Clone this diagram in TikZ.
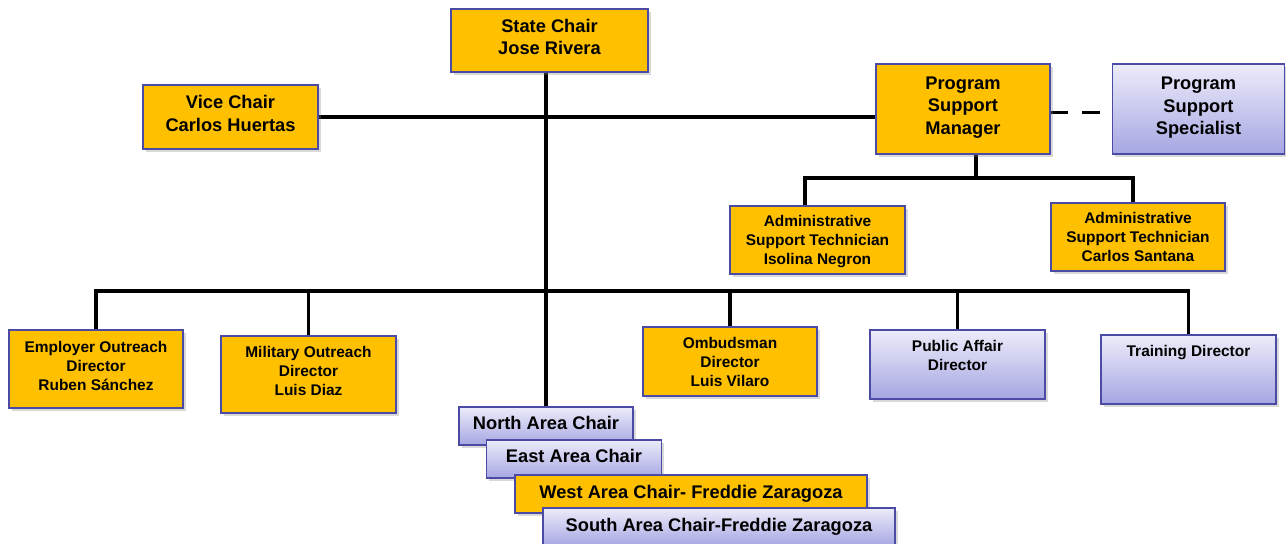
\documentclass[tikz,border=0pt]{standalone}
\usepackage{fontspec}
\setmainfont{Liberation Sans}
\usetikzlibrary{shadows,backgrounds}
\definecolor{boxgold}{HTML}{FFC000}
\definecolor{boxedge}{HTML}{4B4BA5}
\definecolor{liltop}{HTML}{ECECFA}
\definecolor{lilbot}{HTML}{A6A6E3}

\begin{document}
\begin{tikzpicture}[x=0.02cm, y=-0.02cm]
        \useasboundingbox (0,0) rectangle (1286,544);
        \begin{scope}[every node/.style={draw=boxedge, line width=0.8pt, align=center, inner sep=0pt,
                drop shadow={shadow xshift=1.6pt, shadow yshift=-1.6pt, opacity=0.3},
                font=\fontsize{8.8}{10.8}\selectfont\bfseries},
            big/.style={font=\fontsize{10.4}{12.8}\selectfont\bfseries},
            gold/.style={fill=boxgold},
            lilac/.style={top color=liltop, bottom color=lilbot},
            lifted/.style={text depth=#1}]
            \node[gold, big, lifted=4pt, minimum width=3.94cm, minimum height=1.26cm] (1) at (549.5, 40.5) {State Chair\\Jose Rivera};
            \node[gold, big, lifted=4pt, minimum width=3.5cm, minimum height=1.28cm] (2) at (230.5, 117) {Vice Chair\\Carlos Huertas};
            \node[gold, big, lifted=4pt, minimum width=3.48cm, minimum height=1.8cm] (3) at (963, 109) {Program\\Support\\Manager};
            \node[lilac, big, lifted=3.5pt, minimum width=3.44cm, minimum height=1.8cm] (4) at (1198.5, 109) {Program\\Support\\Specialist};
            \node[gold, lifted=0pt, minimum width=3.5cm, minimum height=1.36cm] (5) at (817.5, 240) {Administrative\\Support Technician\\Isolina Negron};
            \node[gold, minimum width=3.48cm, minimum height=1.36cm] (6) at (1138, 237) {Administrative\\Support Technician\\Carlos Santana};
            \node[gold, lifted=3.5pt, minimum width=3.48cm, minimum height=1.56cm] (7) at (96, 369) {Employer Outreach\\Director\\Ruben Sánchez};
            \node[gold, lifted=4pt, minimum width=3.5cm, minimum height=1.54cm] (8) at (308.5, 374.5) {Military Outreach\\Director\\Luis Diaz};
            \node[gold, minimum width=3.48cm, minimum height=1.38cm] (9) at (730, 361.5) {Ombudsman\\Director\\Luis Vilaro};
            \node[lilac, minimum width=3.5cm, minimum height=1.38cm] (10) at (957.5, 364.5) {Public Affair\\Director\\~};
            \node[lilac, minimum width=3.5cm, minimum height=1.38cm] (11) at (1188.5, 369.5) {Training Director\\~\\~};
            \node[lilac, big, lifted=3.5pt, minimum width=3.48cm, minimum height=0.76cm] (12) at (546, 426) {North Area Chair};
            \node[lilac, big, lifted=3pt, minimum width=3.5cm, minimum height=0.76cm] (13) at (574, 459) {East Area Chair};
            \node[gold, big, minimum width=7.04cm, minimum height=0.76cm] (14) at (691, 494) {West Area Chair- Freddie Zaragoza};
            \node[lilac, big, minimum width=7.04cm, minimum height=0.76cm] (15) at (719, 527) {South Area Chair-Freddie Zaragoza};
        \end{scope}
        \begin{scope}[on background layer,
            every edge/.style={draw, line width=2.2pt, line cap=rect},
            dashline/.style={dash pattern=on 10pt off 8pt, line cap=butt}]
            \coordinate (u) at (976, 178);
            \coordinate (a) at (805, 178);
            \coordinate (b) at (1133, 178);
            \coordinate (l) at (96, 291);
            \coordinate (r) at (1188.5, 291);
            \path
                (1.south -| 12.north) edge (12.north)
                (2.east) edge (2.east -| 3.west)
                ([yshift=-2pt]3.east) edge [dashline] ([yshift=-2pt]3.east -| 4.west)
                (u |- 3.south) edge (u)
                (a) edge (b)
                (a) edge (a |- 5.north)
                (b) edge (b |- 6.north)
                (l) edge (r)
                (l -| 7) edge (7)
                (l -| 8) edge (8)
                (l -| 9) edge (9)
                (l -| 10) edge (10)
                (l -| 11) edge (11);
        \end{scope}
    \end{tikzpicture}
\end{document}
